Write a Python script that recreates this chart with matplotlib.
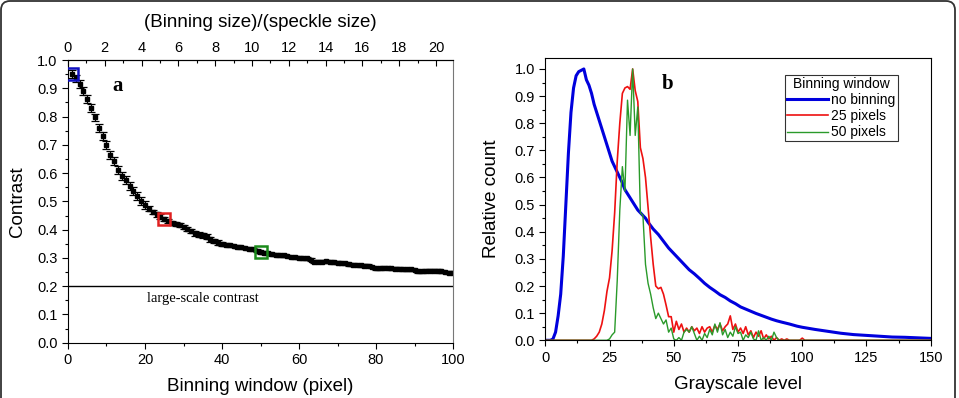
import matplotlib.pyplot as plt
import matplotlib.ticker as ticker
import matplotlib.transforms as mtransforms
from matplotlib.patches import FancyBboxPatch

# ---- panel a: contrast vs binning window ----
window = list(range(1, 101))
contrast = [
    0.952, 0.935, 0.915, 0.891, 0.862, 0.831, 0.797, 0.761, 0.730, 0.698,
    0.664, 0.643, 0.612, 0.590, 0.575, 0.554, 0.536, 0.519, 0.502, 0.487,
    0.474, 0.463, 0.454, 0.446, 0.437, 0.430, 0.424, 0.420, 0.416, 0.410,
    0.403, 0.396, 0.387, 0.382, 0.380, 0.375, 0.366, 0.360, 0.354, 0.350,
    0.346, 0.344, 0.342, 0.340, 0.337, 0.335, 0.333, 0.330, 0.326, 0.320,
    0.318, 0.316, 0.313, 0.311, 0.309, 0.309, 0.307, 0.303, 0.302, 0.301,
    0.299, 0.298, 0.293, 0.287, 0.286, 0.287, 0.288, 0.287, 0.284, 0.283,
    0.282, 0.281, 0.278, 0.276, 0.275, 0.274, 0.273, 0.272, 0.268, 0.263,
    0.263, 0.265, 0.264, 0.263, 0.262, 0.262, 0.260, 0.259, 0.260, 0.257,
    0.253, 0.253, 0.255, 0.254, 0.255, 0.254, 0.252, 0.250, 0.248, 0.247,
]
contrast_err = [0.014] * 20 + [0.008] * 20 + [0.005] * 60
highlight_win = [1, 25, 50]
highlight_col = ['#1010c0', '#e02020', '#1a8a1a']
speckle_size = 4.78
large_scale = 0.2

# ---- panel b: grayscale histograms ----
gray_blue = [0, 2, 3, 4, 5, 6, 7, 8, 9, 10, 11, 12, 13, 14, 15, 16, 17, 18,
             19, 20, 21, 22, 23, 24, 25, 26, 27, 28, 29, 30, 31, 32, 33, 34,
             35, 36, 37, 38, 39, 40, 42, 44, 46, 48, 50, 52, 54, 56, 58, 60,
             62, 64, 66, 68, 70, 72, 74, 76, 78, 80, 82, 84, 86, 88, 90, 92,
             95, 98, 100, 105, 110, 115, 120, 125, 130, 135, 140, 145, 150]
no_binning = [0.0, 0.0, 0.005, 0.03, 0.09, 0.17, 0.31, 0.50, 0.69, 0.84,
              0.93, 0.975, 0.99, 0.995, 1.0, 0.96, 0.94, 0.91, 0.87, 0.84,
              0.81, 0.78, 0.75, 0.72, 0.69, 0.66, 0.64, 0.62, 0.60, 0.58,
              0.555, 0.54, 0.525, 0.51, 0.495, 0.48, 0.47, 0.46, 0.45, 0.435,
              0.41, 0.39, 0.365, 0.34, 0.32, 0.30, 0.28, 0.26, 0.245, 0.228,
              0.21, 0.195, 0.182, 0.168, 0.158, 0.145, 0.135, 0.123, 0.115,
              0.107, 0.099, 0.092, 0.085, 0.078, 0.072, 0.067, 0.060, 0.052,
              0.048, 0.040, 0.033, 0.026, 0.021, 0.018, 0.015, 0.012, 0.011,
              0.009, 0.007]

gray = list(range(0, 151))
# 25-pixel binning, grayscale 19 onwards (zero below)
bin25_part = [
    0.005, 0.015, 0.03, 0.06, 0.11, 0.18, 0.23, 0.33, 0.47, 0.66, 0.80,
    0.91, 0.93, 0.935, 0.925, 1.0, 0.92, 0.88, 0.71, 0.67, 0.60,
    0.49, 0.38, 0.28, 0.20, 0.19, 0.195, 0.17, 0.13, 0.087, 0.087,
    0.03, 0.07, 0.04, 0.06, 0.03, 0.045, 0.03, 0.05, 0.035, 0.045,
    0.025, 0.05, 0.03, 0.045, 0.05, 0.03, 0.055, 0.04, 0.06, 0.035,
    0.05, 0.06, 0.09, 0.04, 0.06, 0.03, 0.045, 0.025, 0.05, 0.02,
    0.035, 0.01, 0.03, 0.015, 0.035, 0.005, 0.02, 0.005, 0.015, 0.0,
    0.01, 0.0, 0.005, 0.0, 0.005, 0.0, 0.0, 0.0, 0.0, 0.0, 0.008, 0.0]
# 50-pixel binning, grayscale 25 onwards (zero below)
bin50_part = [
    0.005, 0.02, 0.03, 0.22, 0.48, 0.64, 0.55, 0.885, 0.755, 1.0,
    0.755, 0.86, 0.47, 0.46, 0.28, 0.21, 0.17, 0.12, 0.08, 0.10, 0.08,
    0.06, 0.075, 0.03, 0.045, 0.005, 0.0, 0.01, 0.0, 0.03, 0.04, 0.03,
    0.05, 0.025, 0.0, 0.015, 0.0, 0.025, 0.01, 0.04, 0.02, 0.06, 0.03,
    0.065, 0.02, 0.04, 0.01, 0.03, 0.015, 0.05, 0.025, 0.03, 0.0, 0.02,
    0.01, 0.03, 0.005, 0.0, 0.035, 0.0, 0.01, 0.0, 0.015, 0.0, 0.03,
    0.01]
bin25 = [0.0] * 19 + bin25_part
bin25 += [0.0] * (len(gray) - len(bin25))
bin50 = [0.0] * 25 + bin50_part
bin50 += [0.0] * (len(gray) - len(bin50))

plt.rcParams['font.family'] = ['Liberation Sans', 'DejaVu Sans']
plt.rcParams['font.size'] = 10.5

fig = plt.figure(figsize=(9.59, 3.98), dpi=100)

# ---------- panel a ----------
ax1 = fig.add_axes([0.0709, 0.139, 0.4015, 0.710])
ax1.errorbar(window, contrast, yerr=contrast_err, fmt='s', color='black',
             markersize=2.8, elinewidth=0.8, capsize=2.6, capthick=0.9)
for w, c in zip(highlight_win, highlight_col):
    ax1.plot(w, contrast[w - 1], 's', markersize=8, markerfacecolor='none',
             markeredgecolor=c, markeredgewidth=1.8, zorder=5)
ax1.axhline(large_scale, color='black', lw=1)
ax1.text(20.5, 0.155, 'large-scale contrast', family='Liberation Serif',
         fontsize=10.5, va='center')
ax1.text(0.13, 0.91, 'a', transform=ax1.transAxes, family='Liberation Serif',
         fontweight='bold', fontsize=15, ha='center', va='center')
ax1.set_xlim(0, 100)
ax1.set_ylim(0, 1.0)
ax1.xaxis.set_major_locator(ticker.MultipleLocator(20))
ax1.xaxis.set_minor_locator(ticker.MultipleLocator(10))
ax1.yaxis.set_major_locator(ticker.MultipleLocator(0.1))
ax1.yaxis.set_minor_locator(ticker.MultipleLocator(0.05))
ax1.yaxis.set_major_formatter(ticker.FormatStrFormatter('%.1f'))
ax1.tick_params(which='major', length=4, width=0.8)
ax1.tick_params(which='minor', length=2.5, width=0.8)
ax1.set_xlabel('Binning window (pixel)', fontsize=13.5, labelpad=8)
ax1.set_ylabel('Contrast', fontsize=13.5, labelpad=8)
ax1.spines['right'].set_color('#777777')

top = ax1.secondary_xaxis('top', functions=(lambda x: x / speckle_size,
                                             lambda r: r * speckle_size))
top.xaxis.set_major_locator(ticker.MultipleLocator(2))
top.xaxis.set_minor_locator(ticker.MultipleLocator(1))
top.tick_params(which='major', direction='in', length=4, width=0.8, pad=4)
top.tick_params(which='minor', direction='in', length=2.5, width=0.8)
top.set_xlabel('(Binning size)/(speckle size)', fontsize=13.5, labelpad=10)

# ---------- panel b ----------
ax2 = fig.add_axes([0.5686, 0.145, 0.4019, 0.709])
ax2.plot(gray_blue, no_binning, color='#0000dd', lw=2.2, label='no binning')
ax2.plot(gray, bin25, color='#ee1111', lw=1.2, label='25 pixels')
ax2.plot(gray, bin50, color='#2a9a2a', lw=1.0, label='50 pixels')
ax2.text(0.316, 0.908, 'b', transform=ax2.transAxes,
         family='Liberation Serif', fontweight='bold', fontsize=15,
         ha='center', va='center')
ax2.set_xlim(0, 150)
ax2.set_ylim(0, 1.04)
ax2.xaxis.set_major_locator(ticker.MultipleLocator(25))
ax2.xaxis.set_minor_locator(ticker.MultipleLocator(12.5))
ax2.yaxis.set_major_locator(ticker.MultipleLocator(0.1))
ax2.yaxis.set_minor_locator(ticker.MultipleLocator(0.05))
ax2.yaxis.set_major_formatter(ticker.FormatStrFormatter('%.1f'))
ax2.tick_params(which='major', length=4, width=0.8)
ax2.tick_params(which='minor', length=2.5, width=0.8)
ax2.set_xlabel('Grayscale level', fontsize=13.5, labelpad=8)
ax2.set_ylabel('Relative count', fontsize=13.5, labelpad=10)
leg = ax2.legend(title='Binning window', loc='upper right',
                 bbox_to_anchor=(0.914, 0.94), fontsize=10, title_fontsize=10,
                 frameon=True, fancybox=False, edgecolor='black',
                 borderpad=0.15, labelspacing=0.15, handlelength=3.0,
                 handletextpad=0.2, borderaxespad=0)
leg.get_frame().set_linewidth(0.8)

# rounded outer frame
frame = FancyBboxPatch((1, -20), 954, 417,
                       boxstyle='round,pad=0,rounding_size=9',
                       transform=mtransforms.IdentityTransform(),
                       facecolor='none', edgecolor='#333333', lw=1.3)
fig.patches.append(frame)

fig.savefig('out.png', dpi=100)
